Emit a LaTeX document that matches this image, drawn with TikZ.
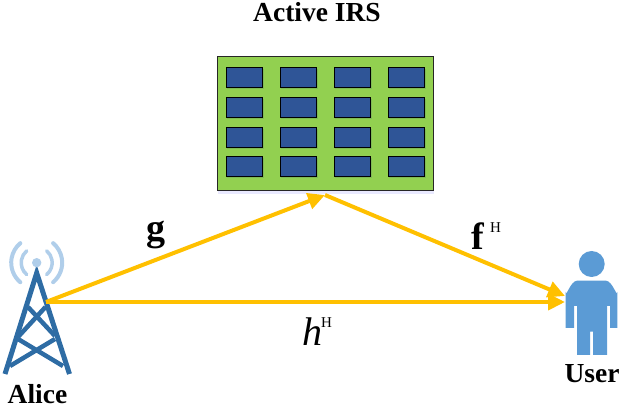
\documentclass[tikz,border=0pt]{standalone}
\usepackage{fontspec}
\setmainfont{Liberation Serif}
\usetikzlibrary{arrows.meta}
\definecolor{linkc}{HTML}{FFC000}
\definecolor{panelc}{HTML}{92D050}
\definecolor{panels}{HTML}{7FBB55}
\definecolor{cellc}{HTML}{2F5597}
\definecolor{towerc}{HTML}{2E6CA4}
\definecolor{wavec}{HTML}{B0CEEA}
\definecolor{userc}{HTML}{5B9BD5}
\tikzset{
  link/.style={draw=linkc,line width=4pt,-{Triangle[length=17pt,width=16pt]},shorten >=0pt},
  cell/.style={draw=black,line width=0.7pt,fill=cellc,minimum width=36.5pt,minimum height=20pt,inner sep=0pt,outer sep=0pt,rectangle},
  cellshadow/.style={fill=panels,minimum width=37pt,minimum height=20pt,inner sep=0pt,rectangle},
  panel/.style={draw=black!85,line width=0.8pt,fill=panelc,minimum width=216pt,minimum height=134pt,inner sep=0pt,outer sep=0pt,rectangle},
  title/.style={font=\bfseries\fontsize{27.5}{27.5}\selectfont,inner sep=0pt},
  bigb/.style={anchor=base west,inner sep=0pt,font=\bfseries\fontsize{38}{38}\selectfont},
  bigi/.style={anchor=base west,inner sep=0pt,font=\itshape\fontsize{40}{40}\selectfont},
  supr/.style={anchor=base west,inner sep=0pt,font=\fontsize{15}{15}\selectfont},
  leg/.style={draw=towerc,line width=5pt},
  brace/.style={draw=towerc,line width=4.5pt},
  wave/.style={draw=wavec,line cap=round},
}
\begin{document}
\begin{tikzpicture}[x=1pt,y=-1pt]
\useasboundingbox (0,0) rectangle (622,406);
% IRS
\fill[blue!25!white,opacity=.35] (218,190) rectangle (434,194);
\node[panel] (irs) at (325,123) {};
\foreach \cx/\cn in {244.25/1,298.25/2,352.25/3,406.5/4}
  \foreach \cy/\rn in {77/1,107/2,137/3,166/4} {
    \node[cellshadow] at (\cx+.8,\cy+2.5) {};
    \node[cell] (c\rn\cn) at (\cx,\cy) {};
  }
\node[title,anchor=base] (irstitle) at (317,22) {Active IRS};
% Tower
\coordinate (apex) at (36.7,273);
\coordinate (bl) at (5,374);
\coordinate (br) at (69.5,374);
\coordinate (feed) at (46,302);
\draw[brace] (28,307) -- (55,336) (45.5,307) -- (18,337);
\draw[brace] (18,339) -- (63,366) (55,339) -- (10,366);
\draw[leg,line join=miter] (bl) -- (apex) -- (br);
\fill[wavec] (36.7,262.7) circle[radius=4.7];
\draw[wave,line width=3.5pt] (36.7,262.7) ++(130:15.5) arc[start angle=130,end angle=230,radius=15.5];
\draw[wave,line width=3.5pt] (36.7,262.7) ++(50:15.5) arc[start angle=50,end angle=-50,radius=15.5];
\draw[wave,line width=4pt] (36.7,262.7) ++(130:25.5) arc[start angle=130,end angle=230,radius=25.5];
\draw[wave,line width=4pt] (36.7,262.7) ++(50:25.5) arc[start angle=50,end angle=-50,radius=25.5];
\node[title,anchor=base] (alice) at (37.5,403) {Alice};
% User
\fill[userc] (591.7,264) circle[radius=13];
\fill[userc] (565.7,328) -- (565.7,292) to[out=-90,in=180] (577,280.7) -- (606,280.7) to[out=0,in=-90] (617.3,292)
  -- (617.3,328) -- (610,328) -- (610,306) -- (607,306) -- (607,355) -- (593,355) -- (593,331.7) -- (590,331.7)
  -- (590,355) -- (577,355) -- (577,306) -- (574,306) -- (574,328) -- cycle;
\node[title,anchor=base] (user) at (592,383) {User};
\coordinate (usera) at (565,296);
\coordinate (userb) at (565,302);
\coordinate (relay) at (325,195);
% Links
\draw[link] (feed) -- (relay);
\draw[link] (relay) -- (usera);
\draw[link] (feed) -- (userb);
% Labels
\node[bigb] (g) at (146,241) {g};
\node[bigb] (f) at (471,250) {f};
\node[supr] (fh) at (490,233) {H};
\node[bigi] (h) at (302,346) {h};
\node[supr] (hh) at (321,328) {H};
\end{tikzpicture}
\end{document}
